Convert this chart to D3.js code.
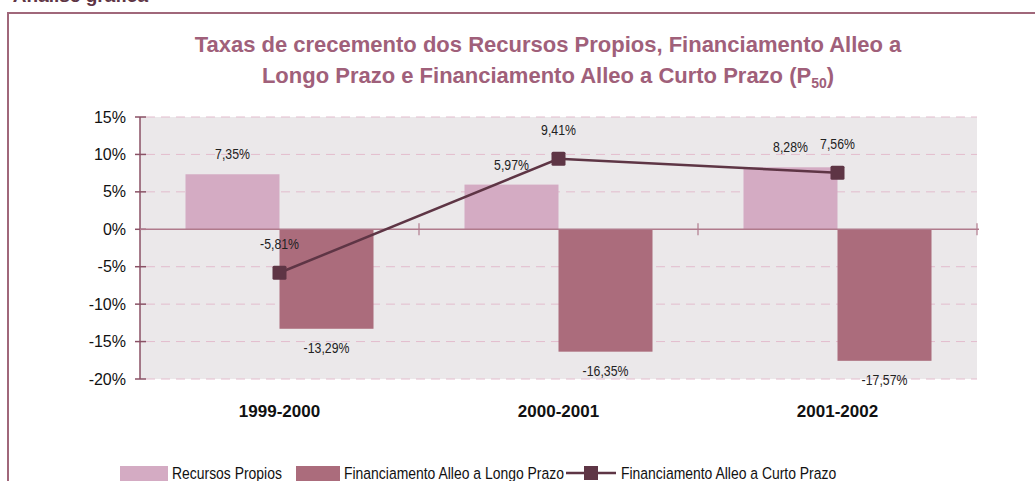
<!DOCTYPE html>
<html>
<head>
<meta charset="utf-8">
<script src="https://cdn.jsdelivr.net/npm/d3@7"></script>
<style>
  body { margin: 0; background: #fff; }
  svg { display: block; }
</style>
</head>
<body>
<div id="chart"></div>
<script>
var categories = ["1999-2000", "2000-2001", "2001-2002"];
var recursos = [7.35, 5.97, 8.28];
var longo = [-13.29, -16.35, -17.57];
var curto = [-5.81, 9.41, 7.56];
var yTicks = [15, 10, 5, 0, -5, -10, -15, -20];
var seriesNames = ["Recursos Propios", "Financiamento Alleo a Longo Prazo", "Financiamento Alleo a Curto Prazo"];

var colRec = "#d4abc3", colLon = "#ab6c7c", colCur = "#5e3545";
var arial = "'Liberation Sans', Arial, sans-serif";
var squeeze = 0.82; // no narrow font installed, so squash Liberation Sans

var svg = d3.select("#chart").append("svg")
  .attr("width", 1035).attr("height", 481);

// cut off heading above frame
svg.append("text")
  .attr("x", 148).attr("y", 2)
  .attr("text-anchor", "end")
  .style("font-family", arial).style("font-weight", "bold")
  .style("font-size", "19px").style("fill", "#5e3545")
  .text("Análise gráfica");

// frame
svg.append("rect")
  .attr("x", 8).attr("y", 13).attr("width", 1040).attr("height", 480)
  .style("fill", "none").style("stroke", "#a0677a").style("stroke-width", 2);

// title
var title = svg.append("text")
  .attr("text-anchor", "middle")
  .style("font-family", arial).style("font-weight", "bold")
  .style("font-size", "22px").style("fill", "#a0607a");
title.append("tspan").attr("x", 548).attr("y", 52)
  .text("Taxas de crecemento dos Recursos Propios, Financiamento Alleo a");
title.append("tspan").attr("x", 548).attr("y", 83)
  .text("Longo Prazo e Financiamento Alleo a Curto Prazo (P");
title.append("tspan").attr("dy", 5).style("font-size", "14px").text("50");
title.append("tspan").attr("dy", -5).text(")");

var x = d3.scaleBand().domain(categories).range([140, 977]);
var xs = d3.scaleBand().domain(["rec", "lon"]).range([0, x.bandwidth()]).paddingOuter(0.484);
var y = d3.scaleLinear().domain([-20, 15]).range([379, 117]);

// plot background
svg.append("rect")
  .attr("x", 140).attr("y", y(15))
  .attr("width", 977 - 140).attr("height", y(-20) - y(15))
  .style("fill", "#ebe8ea");

// grid
svg.selectAll(".grid").data(yTicks.filter(function(d) { return d !== 0; }))
  .enter().append("line")
  .attr("x1", 146).attr("x2", 977)
  .attr("y1", function(d) { return y(d); }).attr("y2", function(d) { return y(d); })
  .style("stroke", "#e3bccd").style("stroke-width", 1).style("stroke-dasharray", "9,6");

// bars
svg.selectAll(".rec").data(recursos).enter().append("rect")
  .attr("x", function(d, i) { return x(categories[i]) + xs("rec"); })
  .attr("y", function(d) { return y(Math.max(0, d)); })
  .attr("width", xs.bandwidth())
  .attr("height", function(d) { return Math.abs(y(d) - y(0)); })
  .style("fill", colRec);
svg.selectAll(".lon").data(longo).enter().append("rect")
  .attr("x", function(d, i) { return x(categories[i]) + xs("lon"); })
  .attr("y", function(d) { return y(Math.max(0, d)); })
  .attr("width", xs.bandwidth())
  .attr("height", function(d) { return Math.abs(y(d) - y(0)); })
  .style("fill", colLon);

// y axis
var yAxis = svg.append("g")
  .attr("transform", "translate(140,0)")
  .call(d3.axisLeft(y).tickValues(yTicks).tickSize(0).tickPadding(14)
    .tickFormat(function(d) { return d + "%"; }));
yAxis.select(".domain").remove();
yAxis.selectAll("text").style("font-family", arial).style("font-size", "16px").style("fill", "#111");
svg.append("line").attr("x1", 140).attr("x2", 140).attr("y1", y(15)).attr("y2", y(-20))
  .style("stroke", "#8a5165").style("stroke-width", 1.5);
svg.selectAll(".ytk").data(yTicks).enter().append("line")
  .attr("x1", 135).attr("x2", 146)
  .attr("y1", function(d) { return y(d); }).attr("y2", function(d) { return y(d); })
  .style("stroke", "#8a5165").style("stroke-width", 1.5);

// x axis at zero
svg.append("line").attr("x1", 140).attr("x2", 979).attr("y1", y(0)).attr("y2", y(0))
  .style("stroke", "#b07a8c").style("stroke-width", 1.5);
svg.selectAll(".xtk").data(categories).enter().append("line")
  .attr("x1", function(d) { return x(d) + x.step(); })
  .attr("x2", function(d) { return x(d) + x.step(); })
  .attr("y1", y(0) - 6).attr("y2", y(0) + 6)
  .style("stroke", "#b07a8c").style("stroke-width", 1.2);

// category labels
svg.selectAll(".cat").data(categories).enter().append("text")
  .attr("x", function(d) { return x(d) + x.bandwidth() / 2; })
  .attr("y", 417)
  .attr("text-anchor", "middle")
  .style("font-family", arial).style("font-weight", "bold").style("font-size", "17px")
  .style("fill", "#111")
  .text(function(d) { return d; });

// line
var line = d3.line()
  .x(function(d, i) { return x(categories[i]) + x.bandwidth() / 2; })
  .y(function(d) { return y(d); });
svg.append("path").datum(curto)
  .attr("d", line)
  .style("fill", "none").style("stroke", colCur).style("stroke-width", 2.5);
svg.selectAll(".mk").data(curto).enter().append("rect")
  .attr("x", function(d, i) { return x(categories[i]) + x.bandwidth() / 2 - 7; })
  .attr("y", function(d) { return y(d) - 7; })
  .attr("width", 14).attr("height", 14).attr("rx", 1.5)
  .style("fill", colCur);

function fmt(v) { return String(v.toFixed(2)).replace(".", ",") + "%"; }

// data labels
function labels(data, key, dx, dy) {
  svg.selectAll(".lb" + key).data(data).enter().append("text")
    .attr("transform", function(d, i) {
      return "translate(" + (x(categories[i]) + dx(d, i)) + "," + dy(d) + ") scale(" + squeeze + ",1)";
    })
    .attr("text-anchor", "middle")
    .style("font-family", arial).style("font-size", "15px").style("fill", "#222")
    .text(fmt);
}
labels(recursos, "rec", function() { return xs("rec") + xs.bandwidth() / 2; },
  function(d) { return y(d) - 15; });
labels(longo, "lon", function() { return xs("lon") + xs.bandwidth() / 2; },
  function(d) { return y(d) + 24; });
labels(curto, "cur", function() { return x.bandwidth() / 2; },
  function(d) { return y(d) - 24; });

// legend
var lg = svg.append("g").style("font-family", arial).style("font-size", "17px").style("fill", "#111");
function legText(px, t) {
  lg.append("text").attr("transform", "translate(" + px + ",479) scale(" + squeeze + ",1)").text(t);
}
lg.append("rect").attr("x", 120).attr("y", 466).attr("width", 48).attr("height", 16).style("fill", colRec);
legText(172, seriesNames[0]);
lg.append("rect").attr("x", 296).attr("y", 466).attr("width", 44).attr("height", 16).style("fill", colLon);
legText(344, seriesNames[1]);
lg.append("line").attr("x1", 566).attr("x2", 616).attr("y1", 473).attr("y2", 473)
  .style("stroke", colCur).style("stroke-width", 2.5);
lg.append("rect").attr("x", 584).attr("y", 466).attr("width", 14).attr("height", 14).style("fill", colCur);
legText(621, seriesNames[2]);
</script>
</body>
</html>
